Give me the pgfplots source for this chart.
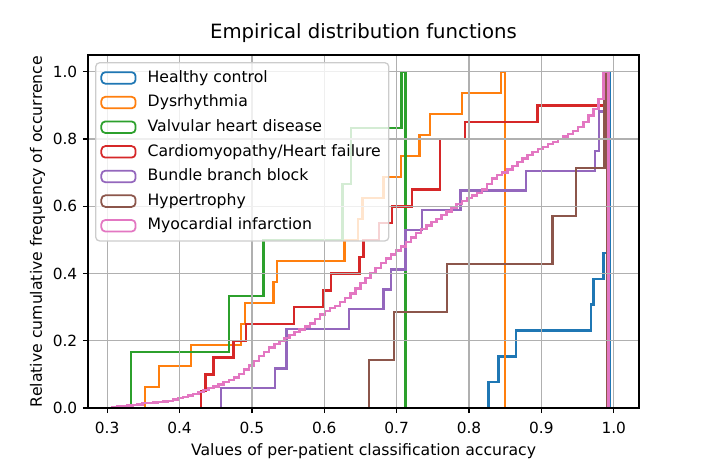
\documentclass[border=0pt]{standalone}
\usepackage{fontspec}
\setmainfont{DejaVu Sans}
\usepackage{pgfplots}
\pgfplotsset{compat=1.18}

\definecolor{c0}{HTML}{1F77B4}
\definecolor{c1}{HTML}{FF7F0E}
\definecolor{c2}{HTML}{2CA02C}
\definecolor{c3}{HTML}{D62728}
\definecolor{c4}{HTML}{9467BD}
\definecolor{c5}{HTML}{8C564B}
\definecolor{c6}{HTML}{E377C2}
\definecolor{gridc}{RGB}{176,176,176}
\definecolor{legc}{RGB}{204,204,204}

\begin{document}
\begin{tikzpicture}
\begin{axis}[
    at={(0,0)}, anchor=south west,
    scale only axis,
    width=344.4pt, height=220.6pt,
    xmin=0.2735, xmax=1.035,
    ymin=0, ymax=1.05,
    xtick={0.3,0.4,0.5,0.6,0.7,0.8,0.9,1.0},
    xticklabels={0.3,0.4,0.5,0.6,0.7,0.8,0.9,1.0},
    ytick={0,0.2,0.4,0.6,0.8,1.0},
    yticklabels={0.0,0.2,0.4,0.6,0.8,1.0},
    tick pos=left,
    tick align=outside,
    major tick length=3.2pt,
    tick style={black, line width=0.8pt},
    axis line style={black, line width=0.8pt},
    grid=major,
    major grid style={gridc, line width=0.8pt},
    axis on top,
    ticklabel style={font=\fontsize{9.6}{11}\selectfont},
    xticklabel style={yshift=-2pt},
    title={Empirical distribution functions},
    title style={at={(axis description cs:0.5,1)}, anchor=base, yshift=4.4pt, font=\fontsize{12.3}{14}\selectfont},
    xlabel={Values of per-patient classification accuracy},
    xlabel style={at={(axis description cs:0.5,0)}, anchor=base, yshift=-29.4pt, font=\fontsize{9.8}{11}\selectfont},
    ylabel={Relative cumulative frequency of occurrence},
    ylabel style={at={(axis description cs:0,0.5)}, anchor=base, yshift=28.9pt, font=\fontsize{9.8}{11}\selectfont},
    every axis plot/.append style={const plot, line width=1.5pt},
    legend image code/.code={\draw[#1, line width=1.1pt] (0pt,-3.6pt) rectangle (21.4pt,3.6pt);},
    legend cell align=left,
    legend style={at={(axis description cs:0,1)}, anchor=north west, xshift=4.4pt, yshift=-4.4pt,
        draw=legc, line width=0.8pt, rounded corners=2.5pt, fill=white, fill opacity=0.8, draw opacity=1, text opacity=1,
        inner xsep=3pt, inner ysep=1.8pt, column sep=5pt,
        font=\fontsize{9.8}{11}\selectfont,
        nodes={text height=7.4pt, text depth=2.2pt, inner ysep=2.9pt, inner xsep=2pt}},
]

% Healthy control
\addplot[c0] coordinates {
(0.827,0) (0.827,0.0769) (0.8408,0.1538) (0.8648,0.2308) (0.9685,0.3077) (0.972,0.3846) (0.986,0.4615) (0.9914,1) (0.9945,0)
};
\addlegendentry{Healthy control}

% Dysrhythmia
\addplot[c1] coordinates {
(0.3525,0) (0.3525,0.0625) (0.372,0.125) (0.416,0.1875) (0.485,0.25) (0.4907,0.3125) (0.530,0.375) (0.5345,0.4375) (0.628,0.5) (0.647,0.5625) (0.653,0.625) (0.682,0.6875) (0.706,0.75) (0.7316,0.8125) (0.7464,0.875) (0.790,0.9375) (0.8445,1) (0.850,0)
};
\addlegendentry{Dysrhythmia}

% Valvular heart disease
\addplot[c2] coordinates {
(0.3327,0) (0.3327,0.1667) (0.468,0.3333) (0.516,0.5) (0.625,0.6667) (0.637,0.8333) (0.707,1) (0.712,0)
};
\addlegendentry{Valvular heart disease}

% Cardiomyopathy/Heart failure
\addplot[c3] coordinates {
(0.430,0) (0.430,0.05) (0.436,0.10) (0.447,0.15) (0.4745,0.20) (0.4917,0.25) (0.5584,0.30) (0.598,0.35) (0.609,0.40) (0.6487,0.45) (0.654,0.50) (0.676,0.55) (0.6935,0.60) (0.721,0.65) (0.760,0.80) (0.7948,0.85) (0.8947,0.90) (0.987,1) (0.9925,0)
};
\addlegendentry{Cardiomyopathy/Heart failure}

% Bundle branch block
\addplot[c4] coordinates {
(0.4576,0) (0.4576,0.0588) (0.5322,0.1176) (0.548,0.2353) (0.634,0.2941) (0.682,0.3529) (0.692,0.4118) (0.712,0.5294) (0.735,0.5882) (0.788,0.6471) (0.8787,0.7059) (0.9744,0.7647) (0.980,0.8824) (0.9878,1) (0.9932,0)
};
\addlegendentry{Bundle branch block}

% Hypertrophy
\addplot[c5] coordinates {
(0.662,0) (0.662,0.1429) (0.6966,0.2857) (0.7695,0.4286) (0.9154,0.5714) (0.9477,0.7143) (0.987,1) (0.9906,0)
};
\addlegendentry{Hypertrophy}

% Myocardial infarction
\addplot[c6] coordinates {
(0.307,0) (0.307,0.003) (0.314,0.005) (0.321,0.006) (0.328,0.008) (0.335,0.009) (0.342,0.011) (0.349,0.014)
(0.356,0.015) (0.363,0.016) (0.370,0.018) (0.377,0.019) (0.384,0.021) (0.391,0.025) (0.398,0.029) (0.405,0.033)
(0.412,0.037) (0.419,0.042) (0.426,0.047) (0.433,0.053) (0.440,0.059) (0.447,0.064) (0.454,0.070) (0.461,0.077)
(0.468,0.084) (0.475,0.091) (0.482,0.101) (0.489,0.114) (0.496,0.127) (0.503,0.140) (0.510,0.154) (0.517,0.167)
(0.524,0.180) (0.531,0.190) (0.538,0.199) (0.545,0.208) (0.552,0.217) (0.559,0.226) (0.566,0.234) (0.573,0.243)
(0.580,0.251) (0.587,0.264) (0.594,0.278) (0.601,0.289) (0.608,0.297) (0.615,0.304) (0.622,0.315) (0.629,0.328)
(0.636,0.341) (0.643,0.356) (0.650,0.371) (0.657,0.387) (0.664,0.402) (0.671,0.417) (0.678,0.432) (0.685,0.445)
(0.692,0.457) (0.699,0.468) (0.706,0.481) (0.713,0.494) (0.720,0.507) (0.727,0.520) (0.734,0.532) (0.741,0.543)
(0.748,0.553) (0.755,0.563) (0.762,0.574) (0.769,0.584) (0.776,0.595) (0.783,0.606) (0.790,0.616) (0.797,0.624)
(0.804,0.632) (0.811,0.639) (0.818,0.650) (0.825,0.667) (0.832,0.683) (0.839,0.693) (0.846,0.701) (0.853,0.709)
(0.860,0.720) (0.867,0.732) (0.874,0.742) (0.881,0.752) (0.888,0.762) (0.895,0.770) (0.902,0.777) (0.909,0.785)
(0.916,0.792) (0.923,0.800) (0.930,0.808) (0.937,0.816) (0.944,0.824) (0.951,0.836) (0.958,0.851) (0.965,0.870)
(0.972,0.890) (0.979,0.920) (0.986,1) (0.993,0)
};
\addlegendentry{Myocardial infarction}

\end{axis}
\pgfresetboundingbox
\path[use as bounding box] (-55pt,-36.9pt) rectangle (386.25pt,255pt);
\end{tikzpicture}
\end{document}
